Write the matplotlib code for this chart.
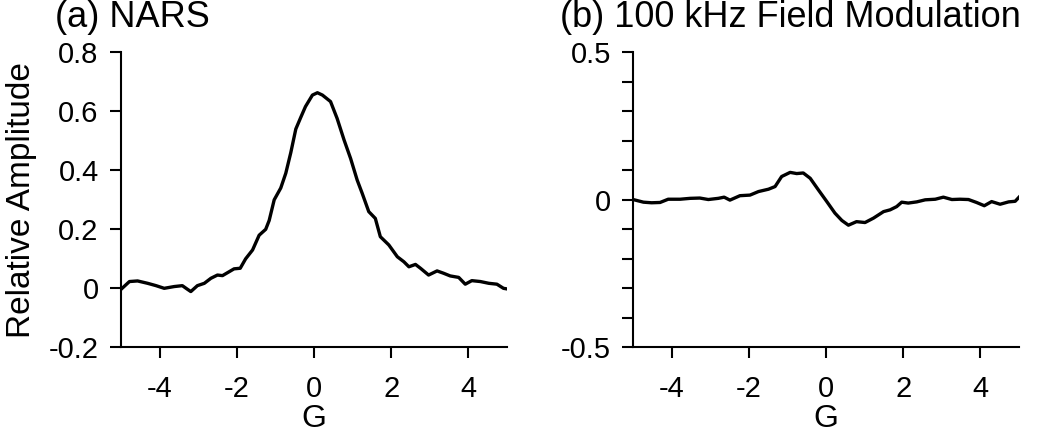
import numpy as np
import matplotlib.pyplot as plt
from matplotlib.ticker import MultipleLocator

plt.rcParams['font.family'] = ['Liberation Sans', 'DejaVu Sans']

# (a) NARS
nars_x = [-4.97, -4.78, -4.57, -4.31, -4.09, -3.88, -3.62, -3.41, -3.28, -3.19, -3.02, -2.84,
          -2.67, -2.5, -2.37, -2.2, -2.07, -1.91, -1.77, -1.59, -1.42, -1.25, -1.16, -1.03,
          -0.86, -0.73, -0.6, -0.47, -0.34, -0.22, -0.04, 0.09, 0.22, 0.43, 0.6, 0.78, 0.95,
          1.12, 1.25, 1.42, 1.59, 1.72, 1.94, 2.16, 2.33, 2.46, 2.63, 2.76, 2.97, 3.19, 3.36,
          3.53, 3.75, 3.92, 4.09, 4.31, 4.53, 4.74, 4.91, 5.0]
nars_y = [0.0, 0.023, 0.025, 0.017, 0.009, 0.0, 0.006, 0.009, -0.003, -0.011, 0.009, 0.017,
          0.034, 0.045, 0.043, 0.056, 0.066, 0.068, 0.10, 0.13, 0.18, 0.20, 0.23, 0.30,
          0.34, 0.39, 0.46, 0.54, 0.58, 0.616, 0.655, 0.663, 0.655, 0.633, 0.576, 0.503, 0.44,
          0.367, 0.322, 0.26, 0.237, 0.175, 0.147, 0.107, 0.09, 0.073, 0.081, 0.068, 0.045, 0.059, 0.051,
          0.042, 0.037, 0.014, 0.026, 0.023, 0.017, 0.014, 0.0, -0.002]

# (b) 100 kHz field modulation
fm_x = [-4.97, -4.73, -4.52, -4.3, -4.09, -3.78, -3.52, -3.27, -3.05, -2.79, -2.64, -2.49,
        -2.23, -1.97, -1.75, -1.49, -1.32, -1.15, -0.93, -0.76, -0.59, -0.41, -0.2, 0.02,
        0.23, 0.41, 0.58, 0.79, 1.01, 1.23, 1.49, 1.66, 1.83, 1.96, 2.13, 2.35, 2.57, 2.83,
        3.04, 3.26, 3.47, 3.69, 3.9, 4.1, 4.29, 4.51, 4.73, 4.9, 5.0]
fm_y = [0.0, -0.008, -0.01, -0.009, 0.002, 0.002, 0.005, 0.006, 0.001, 0.005, 0.009, -0.001,
        0.014, 0.016, 0.028, 0.036, 0.045, 0.079, 0.093, 0.089, 0.091, 0.073, 0.034, -0.006,
        -0.045, -0.07, -0.086, -0.074, -0.077, -0.062, -0.04, -0.034, -0.023, -0.008, -0.011, -0.007, 0.0, 0.002,
        0.009, 0.001, 0.002, 0.001, -0.009, -0.02, -0.006, -0.015, -0.007, -0.005, 0.009]

x_ticks = [-4, -2, 0, 2, 4]

fig = plt.figure(figsize=(10.5, 4.36), dpi=100)
ax1 = fig.add_axes([0.1152, 0.2034, 0.3676, 0.6766])
ax2 = fig.add_axes([0.6029, 0.2034, 0.3676, 0.6766])

for ax in (ax1, ax2):
    ax.spines['top'].set_visible(False)
    ax.spines['right'].set_visible(False)
    for s in ('left', 'bottom'):
        ax.spines[s].set_linewidth(1.5)
    ax.set_xlim(-5, 5)
    ax.set_xticks(x_ticks)
    ax.set_xticklabels([str(t) for t in x_ticks])
    ax.tick_params(axis='x', direction='out', length=8, width=1.5, labelsize=21, pad=12)
    ax.tick_params(axis='y', which='both', direction='out', length=8, width=1.5, labelsize=21, pad=8)
    ax.set_xlabel('G', fontsize=23, labelpad=1)

ax1.plot(nars_x, nars_y, color='black', lw=2.4)
ax1.set_ylim(-0.2, 0.8)
ax1.set_yticks([-0.2, 0, 0.2, 0.4, 0.6, 0.8])
ax1.set_yticklabels(['-0.2', '0', '0.2', '0.4', '0.6', '0.8'])
ax1.set_ylabel('Relative Amplitude', fontsize=24)
ax1.yaxis.set_label_coords(-0.217, 0.5)
fig.text(0.052, 0.939, '(a) NARS', fontsize=26, va='baseline', ha='left')

ax2.plot(fm_x, fm_y, color='black', lw=2.4)
ax2.set_ylim(-0.5, 0.5)
ax2.set_yticks([-0.5, 0, 0.5])
ax2.set_yticklabels(['-0.5', '0', '0.5'])
ax2.yaxis.set_minor_locator(MultipleLocator(0.1))
fig.text(0.533, 0.939, '(b) 100 kHz Field Modulation', fontsize=26, va='baseline', ha='left')

fig.savefig('out.png', dpi=100)
